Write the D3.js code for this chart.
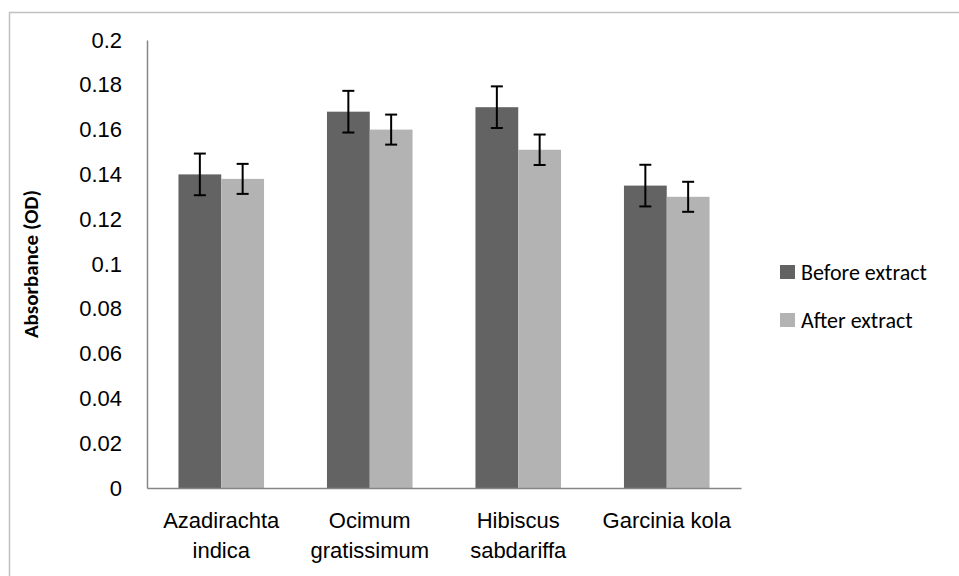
<!DOCTYPE html>
<html>
<head>
<meta charset="utf-8">
<script src="https://cdn.jsdelivr.net/npm/d3@7"></script>
<style>
  html, body { margin: 0; padding: 0; background: #fff; }
  svg { display: block; font-family: Calibri, Carlito, Lato, "Open Sans", sans-serif; }
</style>
</head>
<body>
<div id="chart"></div>
<script>
"use strict";
// data
var categories = [["Azadirachta", "indica"], ["Ocimum", "gratissimum"], ["Hibiscus", "sabdariffa"], ["Garcinia kola"]];
var seriesNames = ["Before extract", "After extract"];
var before = [0.140, 0.168, 0.170, 0.135];
var after = [0.138, 0.160, 0.151, 0.130];
var beforeErr = [0.0093, 0.0093, 0.0093, 0.0093];
var afterErr = [0.0067, 0.0067, 0.0068, 0.0067];
var yTicks = [0, 0.02, 0.04, 0.06, 0.08, 0.1, 0.12, 0.14, 0.16, 0.18, 0.2];

var colors = ["#636363", "#b3b3b3"];
var W = 959, H = 576;
var plot = {left: 147, right: 741, top: 40, bottom: 488};
var fs = 22;

var svg = d3.select("#chart").append("svg")
  .attr("width", W).attr("height", H);

// chart frame (right/bottom edges fall outside the picture)
svg.append("rect")
  .attr("x", 9.5).attr("y", 12.5)
  .attr("width", W + 20).attr("height", H + 20)
  .attr("fill", "none").attr("stroke", "#c0c0c0").attr("stroke-width", 1.5);

var x0 = d3.scaleBand()
  .domain(d3.range(categories.length))
  .range([plot.left, plot.right])
  .paddingInner(0).paddingOuter(0);

var x1 = d3.scaleBand()
  .domain([0, 1])
  .range([0, x0.bandwidth()])
  .paddingInner(0)
  .paddingOuter(0.735);

var y = d3.scaleLinear().domain([0, 0.2]).range([plot.bottom, plot.top]);

var rows = categories.map(function(c, i) {
  return [
    {cat: i, s: 0, v: before[i], e: beforeErr[i]},
    {cat: i, s: 1, v: after[i], e: afterErr[i]}
  ];
});

var groups = svg.selectAll("g.grp")
  .data(rows)
  .enter().append("g")
  .attr("class", "grp")
  .attr("transform", function(d, i) { return "translate(" + x0(i) + ",0)"; });

groups.selectAll("rect")
  .data(function(d) { return d; })
  .enter().append("rect")
  .attr("x", function(d) { return x1(d.s); })
  .attr("y", function(d) { return y(d.v); })
  .attr("width", x1.bandwidth())
  .attr("height", function(d) { return y(0) - y(d.v); })
  .attr("fill", function(d) { return colors[d.s]; });

// error bars
var eb = groups.selectAll("g.err")
  .data(function(d) { return d; })
  .enter().append("g")
  .attr("class", "err")
  .attr("stroke", "#000")
  .attr("stroke-width", 2);
eb.append("line")
  .attr("x1", function(d) { return x1(d.s) + x1.bandwidth() / 2; })
  .attr("x2", function(d) { return x1(d.s) + x1.bandwidth() / 2; })
  .attr("y1", function(d) { return y(d.v + d.e); })
  .attr("y2", function(d) { return y(d.v - d.e); });
[1, -1].forEach(function(sign) {
  eb.append("line")
    .attr("x1", function(d) { return x1(d.s) + x1.bandwidth() / 2 - 6; })
    .attr("x2", function(d) { return x1(d.s) + x1.bandwidth() / 2 + 6; })
    .attr("y1", function(d) { return y(d.v + sign * d.e); })
    .attr("y2", function(d) { return y(d.v + sign * d.e); });
});

// axes
var yAxis = d3.axisLeft(y).tickValues(yTicks).tickSize(0).tickPadding(25)
  .tickFormat(function(d) { return d3.format("~g")(d); });
var ya = svg.append("g")
  .attr("transform", "translate(" + plot.left + ",0)")
  .call(yAxis);
ya.select(".domain").attr("stroke", "#868686").attr("stroke-width", 1.5);
ya.selectAll("text").attr("font-size", fs).attr("fill", "#000").attr("font-family", null);

var xa = svg.append("g")
  .attr("transform", "translate(0," + plot.bottom + ")")
  .call(d3.axisBottom(x0).tickSize(0).tickFormat(""));
xa.select(".domain").attr("stroke", "#868686").attr("stroke-width", 1.5);

xa.selectAll(".tick").each(function(i) {
  var t = d3.select(this).append("text")
    .attr("fill", "#000")
    .attr("font-size", fs)
    .attr("text-anchor", "middle");
  categories[i].forEach(function(line, k) {
    t.append("tspan").attr("x", 0).attr("y", 40 + k * 30).text(line);
  });
});

// y title
svg.append("text")
  .attr("transform", "translate(38," + (plot.top + plot.bottom) / 2 + ") rotate(-90)")
  .attr("text-anchor", "middle")
  .attr("font-size", 21)
  .attr("font-weight", "bold")
  .text("Absorbance (OD)");

// legend
var lg = svg.append("g").attr("transform", "translate(780,272)");
var li = lg.selectAll("g").data(seriesNames).enter().append("g")
  .attr("transform", function(d, i) { return "translate(0," + i * 48 + ")"; });
li.append("rect").attr("x", 0).attr("y", -7).attr("width", 15).attr("height", 14)
  .attr("fill", function(d, i) { return colors[i]; });
li.append("text").attr("x", 21).attr("dy", "0.35em").attr("font-size", fs).text(function(d) { return d; });
</script>
</body>
</html>
